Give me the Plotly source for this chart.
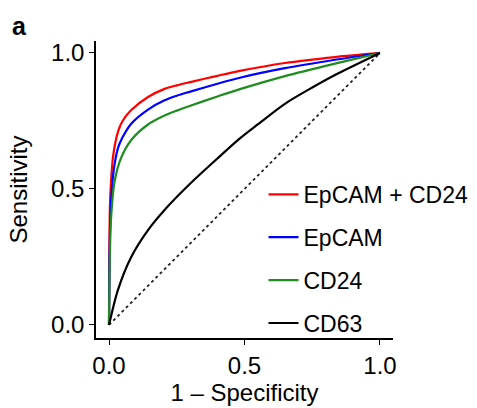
import plotly.graph_objects as go

# ROC curves
fpr_combo = [0, 0.001, 0.003, 0.006, 0.015, 0.033, 0.05, 0.082, 0.144, 0.205, 0.25, 0.30, 0.40, 0.483, 0.649, 0.834, 1.0]
tpr_combo = [0, 0.25, 0.42, 0.50, 0.62, 0.71, 0.75, 0.79, 0.838, 0.868, 0.881, 0.893, 0.916, 0.934, 0.963, 0.985, 1.0]

fpr_epcam = [0, 0.002, 0.006, 0.015, 0.033, 0.05, 0.082, 0.144, 0.205, 0.25, 0.30, 0.40, 0.483, 0.649, 0.834, 1.0]
tpr_epcam = [0, 0.25, 0.42, 0.55, 0.65, 0.69, 0.74, 0.792, 0.826, 0.843, 0.858, 0.887, 0.909, 0.944, 0.975, 1.0]

fpr_cd24 = [0, 0.003, 0.008, 0.021, 0.045, 0.082, 0.144, 0.205, 0.25, 0.30, 0.40, 0.483, 0.649, 0.834, 1.0]
tpr_cd24 = [0, 0.25, 0.40, 0.53, 0.615, 0.68, 0.737, 0.770, 0.788, 0.806, 0.840, 0.867, 0.915, 0.961, 1.0]

fpr_cd63 = [0, 0.033, 0.082, 0.144, 0.205, 0.30, 0.40, 0.483, 0.55, 0.649, 0.75, 0.834, 1.0]
tpr_cd63 = [0, 0.129, 0.25, 0.349, 0.423, 0.52, 0.612, 0.686, 0.738, 0.813, 0.873, 0.919, 1.0]

chance = [0, 1]

series_names = ["EpCAM + CD24", "EpCAM", "CD24", "CD63"]
series_colors = ["#FF0000", "#0000FF", "#1E8C1E", "#000000"]

tick_vals = [0, 0.5, 1.0]
tick_text = ["0.0", "0.5", "1.0"]

FONT = "Liberation Sans, Arial, Helvetica, sans-serif"

fig = go.Figure()
fig.add_trace(go.Scatter(x=chance, y=chance, mode="lines",
                         line=dict(color="#222222", width=1.8, dash="dot"),
                         showlegend=False, hoverinfo="skip"))
data = [(fpr_combo, tpr_combo), (fpr_epcam, tpr_epcam), (fpr_cd24, tpr_cd24), (fpr_cd63, tpr_cd63)]
for i in range(4):
    fx, fy = data[i]
    fig.add_trace(go.Scatter(x=fx, y=fy, mode="lines", name=series_names[i],
                             line=dict(color=series_colors[i], width=2.2, shape="spline", smoothing=0.8),
                             legendgroup=series_names[i]))

fig.update_layout(
    template="none",
    width=477, height=408,
    margin=dict(l=96, r=84, t=41, b=70, autoexpand=False),
    paper_bgcolor="white", plot_bgcolor="white",
    font=dict(family=FONT, size=23, color="black"),
    showlegend=True,
    legend=dict(x=0.564, y=0.556, xanchor="left", yanchor="top",
                bgcolor="rgba(0,0,0,0)", font=dict(size=23),
                tracegroupgap=10, traceorder="grouped"),
    annotations=[dict(text="<b>a</b>", x=-0.29, y=1.105, xref="paper", yref="paper",
                      xanchor="left", yanchor="top",
                      showarrow=False, font=dict(size=25))],
)

fig.update_xaxes(range=[-0.048, 1.048], tickvals=tick_vals, ticktext=tick_text, automargin=False,
                 showgrid=False, zeroline=False, showline=True, linecolor="black", linewidth=1.5,
                 ticks="outside", ticklen=5, tickwidth=1.2, tickcolor="black", mirror=False,
                 tickfont=dict(size=24),
                 title=dict(text="1 – Specificity", font=dict(size=24), standoff=7))
fig.update_yaxes(range=[-0.048, 1.044], tickvals=tick_vals, ticktext=tick_text, automargin=False,
                 showgrid=False, zeroline=False, showline=True, linecolor="black", linewidth=1.5,
                 ticks="outside", ticklen=5, tickwidth=1.2, tickcolor="black", mirror=False,
                 tickfont=dict(size=24),
                 title=dict(text="Sensitivity", font=dict(size=24), standoff=17))

fig.write_html("out.html", config={"displayModeBar": False},
               post_script="document.body.style.margin='0';document.body.style.overflow='hidden';")
